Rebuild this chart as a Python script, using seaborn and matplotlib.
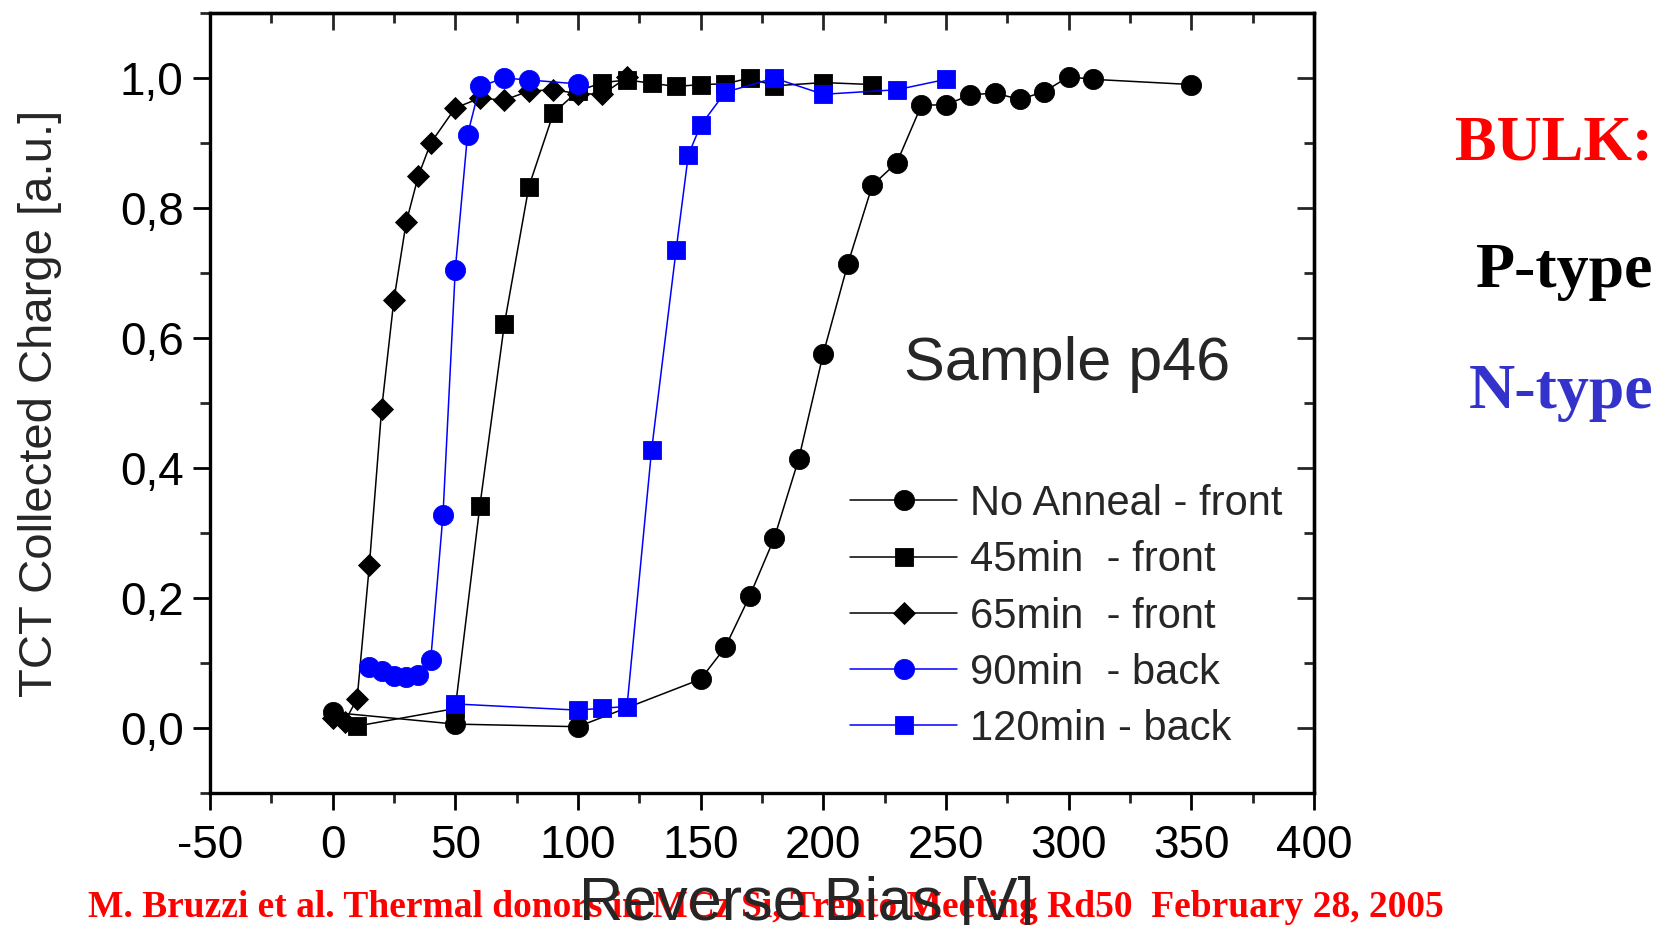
import matplotlib
matplotlib.use("Agg")
import matplotlib.pyplot as plt
import seaborn as sns
from matplotlib.ticker import MultipleLocator, FuncFormatter
from matplotlib.lines import Line2D

# ---- data ----
noanneal_x = [0, 50, 100, 150, 160, 170, 180, 190, 200, 210, 220, 230, 240, 250, 260, 270, 280, 290, 300, 310, 350]
noanneal_y = [0.024, 0.006, 0.002, 0.075, 0.124, 0.203, 0.292, 0.414, 0.576, 0.714, 0.835, 0.870, 0.958, 0.959,
              0.974, 0.977, 0.967, 0.979, 1.002, 0.998, 0.990]

m45_x = [10, 50, 60, 70, 80, 90, 100, 110, 120, 130, 140, 150, 160, 170, 180, 200, 220]
m45_y = [0.003, 0.030, 0.341, 0.621, 0.833, 0.946, 0.980, 0.993, 0.997, 0.992, 0.987, 0.990, 0.991, 1.000,
         0.988, 0.993, 0.990]

m65_x = [0, 5, 10, 15, 20, 25, 30, 35, 40, 50, 60, 70, 80, 90, 100, 110, 120]
m65_y = [0.015, 0.010, 0.045, 0.251, 0.491, 0.659, 0.778, 0.850, 0.900, 0.954, 0.969, 0.966, 0.980, 0.982,
         0.976, 0.975, 1.001]

m90_x = [15, 20, 25, 30, 35, 40, 45, 50, 55, 60, 70, 80, 100]
m90_y = [0.094, 0.088, 0.080, 0.079, 0.081, 0.105, 0.328, 0.705, 0.913, 0.987, 1.000, 0.997, 0.991]

m120_x = [50, 100, 110, 120, 130, 140, 145, 150, 160, 180, 200, 230, 250]
m120_y = [0.037, 0.0275, 0.0305, 0.033, 0.427, 0.735, 0.882, 0.927, 0.978, 1.000, 0.975, 0.982, 0.998]

labels = ["No Anneal - front", "45min  - front", "65min  - front", "90min  - back", "120min - back"]
xticks = [-50, 0, 50, 100, 150, 200, 250, 300, 350, 400]
yticks = [0.0, 0.2, 0.4, 0.6, 0.8, 1.0]

series = [
    (noanneal_x, noanneal_y, "black", "o", 14.5),
    (m45_x, m45_y, "black", "s", 12.5),
    (m65_x, m65_y, "black", "D", 11.5),
    (m90_x, m90_y, "#0000FF", "o", 14.5),
    (m120_x, m120_y, "#0000FF", "s", 12.5),
]

sns.set_style("ticks")
plt.rcParams["font.family"] = ["Liberation Sans", "DejaVu Sans"]

fig = plt.figure(figsize=(16.66, 9.25), dpi=100)
ax = fig.add_axes([0.126, 0.1427, 0.6627, 0.8432])

handles = []
for (xs, ys, c, m, ms), lab in zip(series, labels):
    sns.lineplot(x=xs, y=ys, ax=ax, color=c, marker=m, markersize=ms,
                 markeredgecolor=c, markeredgewidth=0.6, linewidth=1.1,
                 sort=False, legend=False, estimator=None)
    handles.append(Line2D([], [], color=c, marker=m, markersize=ms,
                          markeredgecolor=c, markeredgewidth=0.6, linewidth=1.1))

ax.set_xlim(-50, 400)
ax.set_ylim(-0.1, 1.1)
ax.set_xticks(xticks)
ax.xaxis.set_minor_locator(MultipleLocator(25))
ax.set_yticks(yticks)
ax.yaxis.set_minor_locator(MultipleLocator(0.1))
ax.yaxis.set_major_formatter(FuncFormatter(lambda v, p: f"{v:.1f}".replace(".", ",")))
ax.xaxis.set_major_formatter(FuncFormatter(lambda v, p: f"{v:.0f}"))

for s in ax.spines.values():
    s.set_visible(True)
    s.set_linewidth(2.4)
    s.set_color("black")

ax.tick_params(which="major", direction="out", length=12, width=2.0, labelsize=33, colors="black")
ax.tick_params(which="minor", direction="out", length=7, width=2.0)
ax.tick_params(axis="x", which="major", pad=10)
ax.tick_params(axis="y", which="major", pad=7)

secx = ax.secondary_xaxis("top")
secx.set_xticks(xticks)
secx.xaxis.set_minor_locator(MultipleLocator(25))
secx.tick_params(which="major", direction="in", length=12, width=2.0, labeltop=False)
secx.tick_params(which="minor", direction="in", length=7, width=2.0)
secx.spines["top"].set_linewidth(2.4)

secy = ax.secondary_yaxis("right")
secy.set_yticks(yticks)
secy.yaxis.set_minor_locator(MultipleLocator(0.1))
secy.tick_params(which="major", direction="in", length=12, width=2.0, labelright=False)
secy.tick_params(which="minor", direction="in", length=7, width=2.0)
secy.spines["right"].set_linewidth(2.4)

ax.set_ylabel("TCT Collected Charge [a.u.]", fontsize=34, va="center")
ax.yaxis.set_label_coords(-0.154, 0.5)
ax.set_xlabel("Reverse Bias [V]", fontsize=44, va="center")
ax.xaxis.set_label_coords(0.541, -0.143)

ax.text(232.8, 0.535, "Sample p46", fontsize=44, ha="left", va="baseline")

ax.legend(handles, labels, loc="upper left", bbox_to_anchor=(850 / 1666, 1 - 484 / 925),
          bbox_transform=fig.transFigure, frameon=False, fontsize=30, borderpad=0,
          borderaxespad=0, handlelength=2.57, handletextpad=0.3, labelspacing=0.39, numpoints=1)

serif = ["Liberation Serif", "DejaVu Serif"]
fig.text(0.9922, 1 - 159 / 925, "BULK:", family=serif, fontweight="bold", fontsize=45,
         color="#FF0000", ha="right", va="baseline")
fig.text(0.9922, 1 - 287 / 925, "P-type", family=serif, fontweight="bold", fontsize=46,
         color="black", ha="right", va="baseline")
fig.text(0.9922, 1 - 408 / 925, "N-type", family=serif, fontweight="bold", fontsize=46,
         color="#3333CC", ha="right", va="baseline")
fig.text(88 / 1666, 1 - 917 / 925,
         "M. Bruzzi et al. Thermal donors in MCz Si, Trento Meeting Rd50  February 28, 2005",
         family=serif, fontweight="bold", fontsize=27, color="#FF0000", ha="left",
         va="baseline", zorder=-1)

fig.savefig("out.png", dpi=100)
